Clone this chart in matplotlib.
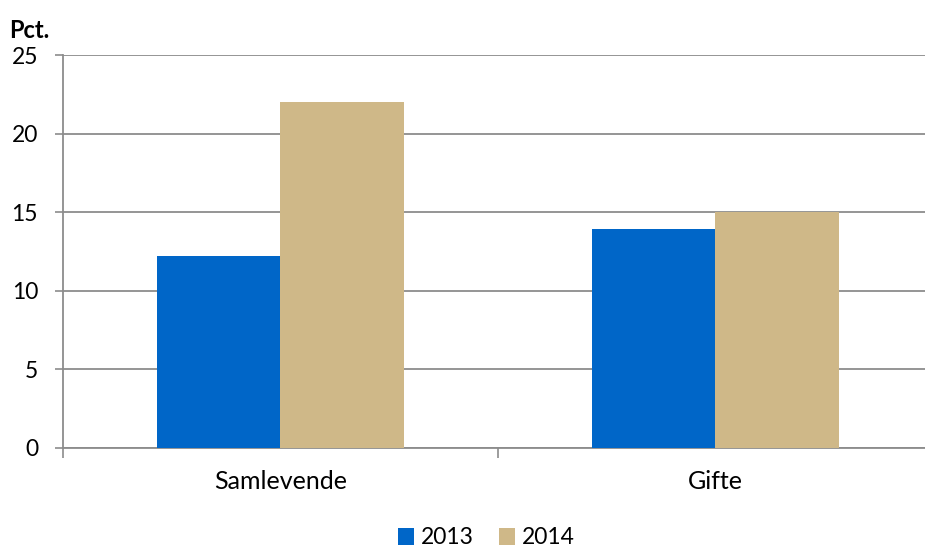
import numpy as np
import matplotlib.pyplot as plt

plt.rcParams['font.family'] = ['Lato', 'DejaVu Sans']

categories = ['Samlevende', 'Gifte']
years = ['2013', '2014']
values_2013 = [12.2, 13.9]
values_2014 = [22.0, 15.0]
colors = ['#0066c8', '#cfb888']

W, H = 925, 548
fig = plt.figure(figsize=(W / 100, H / 100), dpi=100)
ax = fig.add_axes([63 / W, (H - 448) / H, (932.5 - 63) / W, (448 - 55) / H])

x = np.arange(len(categories))
width = 0.284
ax.bar(x - width / 2, values_2013, width, color=colors[0], label=years[0], zorder=3)
ax.bar(x + width / 2, values_2014, width, color=colors[1], label=years[1], zorder=3)

ax.set_xlim(-0.5, 1.5)
ax.set_ylim(0, 25)
ax.set_yticks(range(0, 26, 5))
ax.yaxis.grid(True, color='#8c8c8c', linewidth=1.3, zorder=0)

# category boundaries as major ticks, labels on minor ticks
ax.set_xticks([-0.5, 0.5, 1.5])
ax.set_xticklabels([])
ax.set_xticks(x, minor=True)
ax.set_xticklabels(categories, minor=True)
ax.tick_params(axis='x', which='minor', length=0, pad=16, labelsize=18)
ax.tick_params(axis='x', which='major', length=7, width=1.2, color='#8c8c8c')
ax.tick_params(axis='y', length=6, width=1.2, color='#8c8c8c', labelsize=16.5, pad=12)

for side in ['top', 'right']:
    ax.spines[side].set_visible(False)
for side in ['left', 'bottom']:
    ax.spines[side].set_color('#8c8c8c')
    ax.spines[side].set_linewidth(1.3)

fig.text(9 / W, 1 - 30 / H, 'Pct.', fontsize=17, fontweight='bold', va='center', ha='left')

fig.legend(loc='center', bbox_to_anchor=(486 / W, 1 - 538 / H), ncol=2, frameon=False,
           fontsize=16.5, handlelength=0.7, handleheight=0.7, handletextpad=0.3,
           columnspacing=1.1)

fig.savefig('out.png', dpi=100)
